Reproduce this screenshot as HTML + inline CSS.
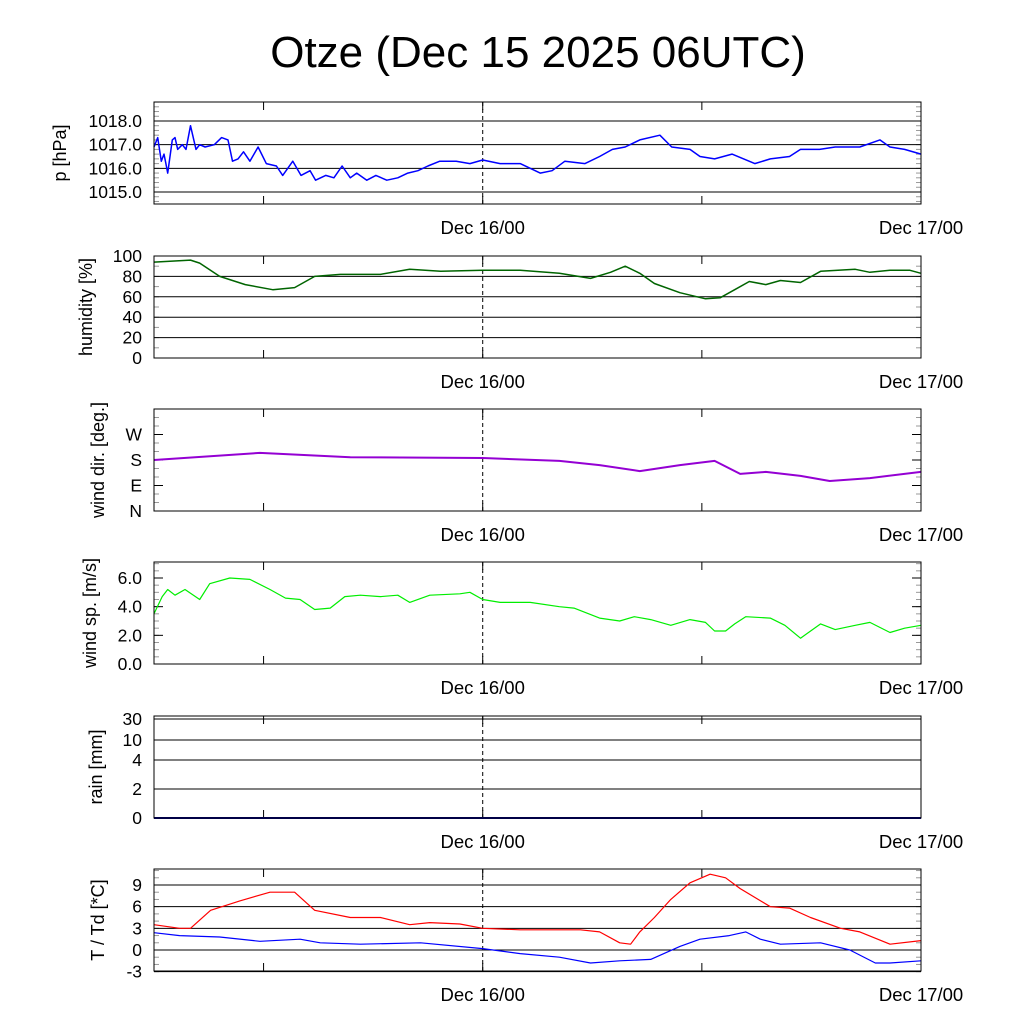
<!DOCTYPE html>
<html><head><meta charset="utf-8"><style>
body{margin:0;background:#fff}
svg{display:block;font-family:"Liberation Sans",sans-serif}
</style></head><body>
<svg id="c" width="1024" height="1024" viewBox="0 0 1024 1024">
<text x="538" y="67" font-size="44" text-anchor="middle">Otze (Dec 15 2025 06UTC)</text>
</svg>
<script>
const pHours=[0,0.2,0.4,0.55,0.65,0.75,1.0,1.15,1.3,1.55,1.75,2.0,2.3,2.5,2.8,3.3,3.7,4.05,4.3,4.6,4.9,5.25,5.7,6.15,6.7,7.05,7.6,8.05,8.55,8.85,9.4,9.85,10.3,10.75,11.1,11.65,12.15,12.75,13.35,13.9,14.45,15.0,15.65,16.55,17.3,18.0,18.95,20.05,21.15,21.8,22.5,23.6,24.4,25.1,25.8,26.6,27.7,28.35,29.35,29.9,30.7,31.65,32.9,33.75,34.8,35.4,36.45,37.3,38.65,39.75,40.3,41.1,42];
const pVals=[1016.9,1017.3,1016.3,1016.6,1016.2,1015.8,1017.2,1017.3,1016.8,1017.0,1016.8,1017.8,1016.8,1017.0,1016.9,1017.0,1017.3,1017.2,1016.3,1016.4,1016.7,1016.3,1016.9,1016.2,1016.1,1015.7,1016.3,1015.7,1015.9,1015.5,1015.7,1015.6,1016.1,1015.6,1015.8,1015.5,1015.7,1015.5,1015.6,1015.8,1015.9,1016.1,1016.3,1016.3,1016.2,1016.35,1016.2,1016.2,1015.8,1015.9,1016.3,1016.2,1016.5,1016.8,1016.9,1017.2,1017.4,1016.9,1016.8,1016.5,1016.4,1016.6,1016.2,1016.4,1016.5,1016.8,1016.8,1016.9,1016.9,1017.2,1016.9,1016.8,1016.6];
const hHours=[0,2.0,2.5,3.6,5.0,6.5,7.7,8.8,10.2,12.4,14.0,15.7,18.0,20.05,22.2,23.9,25.0,25.8,26.6,27.4,28.8,30.2,31.0,31.8,32.6,33.5,34.3,35.4,36.5,38.4,39.2,40.3,41.4,42];
const hVals=[94,96,93,80,72,67,69,80,82,82,87,85,86,86,83,78,84,90,83,73,64,58,59,67,75,72,76,74,85,87,84,86,86,83];
const dHours=[0,5.8,10.75,18,22.2,24.4,26.6,28.8,30.7,32.1,33.5,35.4,37.0,39.2,42];
const dVals=[180,205,190,187,177,162,141,162,177,131,138,124,106,116,138];
const sHours=[0,0.45,0.75,1.15,1.7,2.5,3.05,4.15,5.25,6.35,7.2,8.0,8.8,9.65,10.45,11.3,12.4,13.35,14.0,15.1,16.75,17.3,18.0,18.95,20.6,22.2,23.0,24.4,25.5,26.3,27.2,28.3,29.35,30.2,30.7,31.3,31.8,32.4,33.75,34.55,35.4,36.5,37.3,38.4,39.2,40.3,41.1,42];
const sVals=[3.5,4.7,5.2,4.8,5.2,4.5,5.6,6.0,5.9,5.2,4.6,4.5,3.8,3.9,4.7,4.8,4.7,4.8,4.3,4.8,4.9,5.0,4.5,4.3,4.3,4.0,3.9,3.2,3.0,3.3,3.1,2.7,3.1,2.9,2.3,2.3,2.8,3.3,3.2,2.7,1.8,2.8,2.4,2.7,2.9,2.2,2.5,2.7];
const rHours=[0,42];
const rVals=[0,0];
const tHours=[0,1.4,2.0,3.1,4.7,6.35,7.7,8.8,10.75,12.4,14.0,15.1,16.75,18.0,20.05,22.2,23.35,24.4,25.5,26.1,26.6,27.4,28.3,29.35,30.45,31.3,32.1,33.75,34.8,35.95,37.6,38.65,40.3,42];
const tVals=[3.5,3.0,3.0,5.5,6.8,8.0,8.0,5.5,4.5,4.5,3.5,3.8,3.6,3.0,2.8,2.8,2.8,2.5,1.0,0.8,2.5,4.5,7.0,9.3,10.5,10.0,8.5,6.0,5.8,4.5,3.0,2.5,0.8,1.3];
const tdHours=[0,1.4,3.6,5.8,8.0,9.1,11.3,14.6,18.0,20.05,22.2,23.9,25.5,27.2,28.8,29.9,31.5,32.4,33.2,34.3,36.5,38.1,39.5,40.3,42];
const tdVals=[2.4,2.0,1.8,1.2,1.5,1.0,0.8,1.0,0.2,-0.5,-1.0,-1.8,-1.5,-1.3,0.5,1.5,2.0,2.5,1.5,0.8,1.0,0,-1.8,-1.8,-1.5];
const xTickHours=[6,18,30];
const xLabelHours=[18,42];
const xLabels=["Dec 16/00","Dec 17/00"];

const NS="http://www.w3.org/2000/svg";
const svg=document.getElementById('c');
const X0=154,X1=921,HMAX=42;
const xs=h=>X0+(X1-X0)*h/HMAX;
function mk(tag,at,parent){const e=document.createElementNS(NS,tag);for(const k in at)e.setAttribute(k,at[k]);(parent||svg).appendChild(e);return e;}

function panel(cfg){
  const g=mk('g',{});
  
  
  const top=cfg.top,bot=cfg.top+102;
  const ys=cfg.ys;
  (cfg.minor||[]).forEach(v=>{const y=ys(v);
    mk('line',{x1:X0,x2:X0+5,y1:y,y2:y,stroke:'#999','stroke-width':1},g);
    mk('line',{x1:X1-5,x2:X1,y1:y,y2:y,stroke:'#999','stroke-width':1},g);});
  cfg.ticks.forEach((v,i)=>{const y=ys(v);
    if(cfg.grid) mk('line',{x1:X0,x2:X1,y1:y,y2:y,stroke:'#000','stroke-width':1},g);
    else {mk('line',{x1:X0,x2:X0+9,y1:y,y2:y,stroke:'#000'},g);mk('line',{x1:X1-9,x2:X1,y1:y,y2:y,stroke:'#000'},g);}
    const t=mk('text',{x:X0-12,y:y+6,'font-size':17.5,'text-anchor':'end'},g);t.textContent=cfg.labels[i];
    
    
  });
  xTickHours.forEach(h=>{const x=xs(h);
    mk('line',{x1:x,x2:x,y1:bot,y2:bot-8,stroke:'#000'},g);
    mk('line',{x1:x,x2:x,y1:top,y2:top+8,stroke:'#000'},g);});
  mk('line',{x1:xs(18),x2:xs(18),y1:top,y2:bot,stroke:'#000','stroke-dasharray':'4,3'},g);
  xLabelHours.forEach((h,i)=>{const t=mk('text',{x:xs(h),y:bot+30,'font-size':18.5,'text-anchor':'middle'},g);t.textContent=xLabels[i];
    
    });
  const yt=mk('text',{x:0,y:0,'font-size':18,'text-anchor':'middle',transform:`translate(${cfg.titleX||98},${top+51}) rotate(-90)`},g);
  yt.textContent=cfg.title;
  
  
  cfg.series.forEach(s=>{
    const d=s.h.map((h,i)=>(i?'L':'M')+xs(h).toFixed(1)+','+ys(s.v[i]).toFixed(1)).join('');
    const p=mk('path',{d:d,fill:'none',stroke:s.color,'stroke-width':s.w||1.5,'stroke-linejoin':'round'},g);
    
    
  });
  mk('rect',{x:X0,y:top,width:X1-X0,height:102,fill:'none',stroke:'#000','stroke-width':1},g);
}
function lin(v0,y0,v1,y1){return v=>y0+(v-v0)*(y1-y0)/(v1-v0);}
function range(a,b,s){const r=[];for(let v=a;v<=b+1e-9;v+=s)r.push(+v.toFixed(3));return r;}

panel({name:'pressure',top:102,ys:lin(1018,121,1015,192),ticks:[1015,1016,1017,1018],labels:['1015.0','1016.0','1017.0','1018.0'],grid:true,minor:range(1014.6,1018.8,0.2),title:'p [hPa]',titleX:66,series:[{name:'pressure-line',h:pHours,v:pVals,color:'#0000ff'}]});
panel({name:'humidity',top:256,ys:lin(0,358,100,256),ticks:[0,20,40,60,80,100],labels:['0','20','40','60','80','100'],grid:true,minor:range(0,100,10),title:'humidity [%]',titleX:92,series:[{name:'humidity-line',h:hHours,v:hVals,color:'#006400'}]});
panel({name:'wind-dir',top:409,ys:lin(0,511,360,409),ticks:[0,90,180,270],labels:['N','E','S','W'],grid:false,minor:range(0,360,30),title:'wind dir. [deg.]',titleX:104,series:[{name:'wind-direction-line',h:dHours,v:dVals,color:'#9400d3',w:2}]});
panel({name:'wind-speed',top:562,ys:lin(0,664,6,578),ticks:[0,2,4,6],labels:['0.0','2.0','4.0','6.0'],grid:false,minor:range(0,7,0.5),title:'wind sp. [m/s]',titleX:96,series:[{name:'wind-speed-line',h:sHours,v:sVals,color:'#00ee00',w:1.2}]});
const rainTickVals=[0,2,4,10,30];
const rainScale=v=>{const pv=[0,2,4,10,30],py=[818,789,760,740,719];for(let i=1;i<pv.length;i++){if(v<=pv[i])return py[i-1]+(v-pv[i-1])*(py[i]-py[i-1])/(pv[i]-pv[i-1]);}return 719;};
panel({name:'rain',top:716,ys:rainScale,ticks:rainTickVals,labels:['0','2','4','10','30'],grid:true,minor:[],title:'rain [mm]',titleX:102,series:[{name:'rain-line',h:rHours,v:rVals,color:'#00008b',w:2}]});
panel({name:'temperature',top:869,ys:lin(0,950,9,885),ticks:[-3,0,3,6,9],labels:['-3','0','3','6','9'],grid:true,minor:range(-3,11,1),title:'T / Td [*C]',titleX:104,series:[{name:'temperature-line',h:tHours,v:tVals,color:'#ff0000',w:1.2},{name:'dewpoint-line',h:tdHours,v:tdVals,color:'#0000ff',w:1.2}]});
</script>
</body></html>
